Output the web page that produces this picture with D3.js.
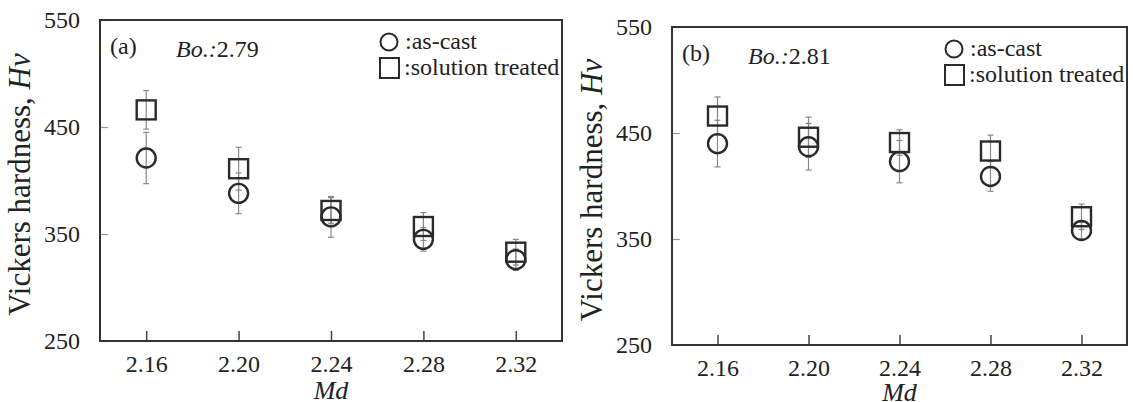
<!DOCTYPE html>
<html>
<head>
<meta charset="utf-8">
<script src="https://cdn.jsdelivr.net/npm/d3@7"></script>
<style>
  body { margin: 0; background: #fff; }
  svg { display: block; font-family: "Liberation Serif", "Times New Roman", serif; }
  svg text { font-family: "Liberation Serif", "Times New Roman", serif; }
</style>
</head>
<body>
<div class="chart"></div>
<script>
// Md values (x categories)
const mdValues = [2.16, 2.20, 2.24, 2.28, 2.32];
const yTicks = [250, 350, 450, 550];

// panel (a), Bo 2.79
const castA = [421, 388, 366, 345, 326];
const castErrA = [24, 19, 19, 11, 10];
const solA = [466, 411, 372, 357, 333];
const solErrA = [18, 20, 12, 13, 12];

// panel (b), Bo 2.81
const castB = [440, 437, 423, 409, 358];
const castErrB = [22, 22, 20, 14, 8];
const solB = [466, 446, 441, 433, 371];
const solErrB = [18, 19, 12, 15, 12];

const W = 1133, H = 402;
const serif = 'Liberation Serif, Times New Roman, serif';
const svg = d3.select('.chart').append('svg')
    .attr('width', W)
    .attr('height', H);

/**
 * Draws one hardness panel
 * @param {*} box pixel box of the plot area
 * @param {*} opt labels and data for the panel
 */
function hardnessPanel(box, opt) {
    const g = svg.append('g');

    const x = d3.scaleLinear().domain([2.14, 2.34]).range([box.left, box.right]);
    const y = d3.scaleLinear().domain([250, 550]).range([box.bottom, box.top]);

    // Axes, ticks point inward
    const yAxis = g.append('g')
        .attr('transform', `translate(${box.left},0)`)
        .call(d3.axisLeft(y).tickValues(yTicks).tickSize(-8).tickPadding(20).tickFormat(d3.format('d')));
    yAxis.select('.domain').remove();
    yAxis.selectAll('line').attr('stroke', '#999').attr('stroke-width', 1.2);
    yAxis.selectAll('text')
        .style('font-family', serif)
        .style('font-size', '24px')
        .attr('fill', '#222');

    const xAxis = g.append('g')
        .attr('transform', `translate(0,${box.bottom})`)
        .call(d3.axisBottom(x).tickValues(mdValues).tickSize(-10).tickPadding(14).tickFormat(d3.format('.2f')));
    xAxis.select('.domain').remove();
    xAxis.selectAll('line').attr('stroke', '#444').attr('stroke-width', 1.5);
    xAxis.selectAll('text')
        .style('font-family', serif)
        .style('font-size', '24px')
        .attr('fill', '#222');

    // Frame
    g.append('rect')
        .attr('x', box.left)
        .attr('y', box.top)
        .attr('width', box.right - box.left)
        .attr('height', box.bottom - box.top)
        .attr('fill', 'none')
        .attr('stroke', '#333')
        .attr('stroke-width', 2);

    // Error bars
    const bars = [];
    mdValues.forEach((m, i) => {
        bars.push({m: m, v: opt.cast[i], e: opt.castErr[i]});
        bars.push({m: m, v: opt.sol[i], e: opt.solErr[i]});
    });
    const eb = g.append('g').attr('stroke', '#888').attr('stroke-width', 1.2);
    bars.forEach(b => {
        eb.append('line')
            .attr('x1', x(b.m)).attr('x2', x(b.m))
            .attr('y1', y(b.v + b.e)).attr('y2', y(b.v - b.e));
        [b.v + b.e, b.v - b.e].forEach(v => {
            eb.append('line')
                .attr('x1', x(b.m) - 3).attr('x2', x(b.m) + 3)
                .attr('y1', y(v)).attr('y2', y(v));
        });
    });

    // Markers
    g.selectAll('.sol')
        .data(opt.sol)
        .enter()
            .append('rect')
            .attr('x', (d, i) => x(mdValues[i]) - 9.5)
            .attr('y', d => y(d) - 9.5)
            .attr('width', 19)
            .attr('height', 19)
            .attr('fill', 'none')
            .attr('stroke', '#2a2a2a')
            .attr('stroke-width', 2.4);
    g.selectAll('.cast')
        .data(opt.cast)
        .enter()
            .append('circle')
            .attr('cx', (d, i) => x(mdValues[i]))
            .attr('cy', d => y(d))
            .attr('r', 9.5)
            .attr('fill', 'none')
            .attr('stroke', '#2a2a2a')
            .attr('stroke-width', 2.4);

    // Panel tag and Bo value
    g.append('text')
        .attr('x', box.left + 10)
        .attr('y', box.top + 34)
        .style('font-size', '24px')
        .attr('fill', '#222')
        .text(opt.tag);
    const bo = g.append('text')
        .attr('x', box.left + 76)
        .attr('y', box.top + 37)
        .style('font-size', '24px')
        .attr('fill', '#222');
    bo.append('tspan').style('font-style', 'italic').text('Bo.:');
    bo.append('tspan').text(opt.bo);

    // Legend
    const lx = box.right - 182, ly = box.top + 22;
    g.append('circle')
        .attr('cx', lx + 9)
        .attr('cy', ly)
        .attr('r', 8.5)
        .attr('fill', 'none')
        .attr('stroke', '#2a2a2a')
        .attr('stroke-width', 2);
    g.append('text')
        .attr('x', lx + 25)
        .attr('y', ly + 7)
        .style('font-size', '24px')
        .attr('fill', '#222')
        .text(':as-cast');
    g.append('rect')
        .attr('x', lx)
        .attr('y', ly + 16)
        .attr('width', 19)
        .attr('height', 20)
        .attr('fill', 'none')
        .attr('stroke', '#2a2a2a')
        .attr('stroke-width', 2);
    g.append('text')
        .attr('x', lx + 24)
        .attr('y', ly + 33)
        .style('font-size', '24px')
        .attr('fill', '#222')
        .text(':solution treated');

    // Axis titles
    const yt = g.append('text')
        .attr('transform', `translate(${box.left - 70},${(box.top + box.bottom) / 2 + 4}) rotate(-90)`)
        .attr('text-anchor', 'middle')
        .style('font-size', '31px')
        .attr('fill', '#222');
    yt.append('tspan').text('Vickers hardness, ');
    yt.append('tspan').style('font-style', 'italic').text('Hv');

    g.append('text')
        .attr('x', x(2.24))
        .attr('y', box.bottom + opt.mdGap)
        .attr('text-anchor', 'middle')
        .style('font-size', '26px')
        .style('font-style', 'italic')
        .attr('fill', '#222')
        .text('Md');
}

hardnessPanel({left: 100, top: 20, right: 562, bottom: 341},
    {tag: '(a)', bo: '2.79', cast: castA, castErr: castErrA, sol: solA, solErr: solErrA, mdGap: 58});
hardnessPanel({left: 672, top: 27, right: 1127, bottom: 345},
    {tag: '(b)', bo: '2.81', cast: castB, castErr: castErrB, sol: solB, solErr: solErrB, mdGap: 56});
</script>
</body>
</html>
